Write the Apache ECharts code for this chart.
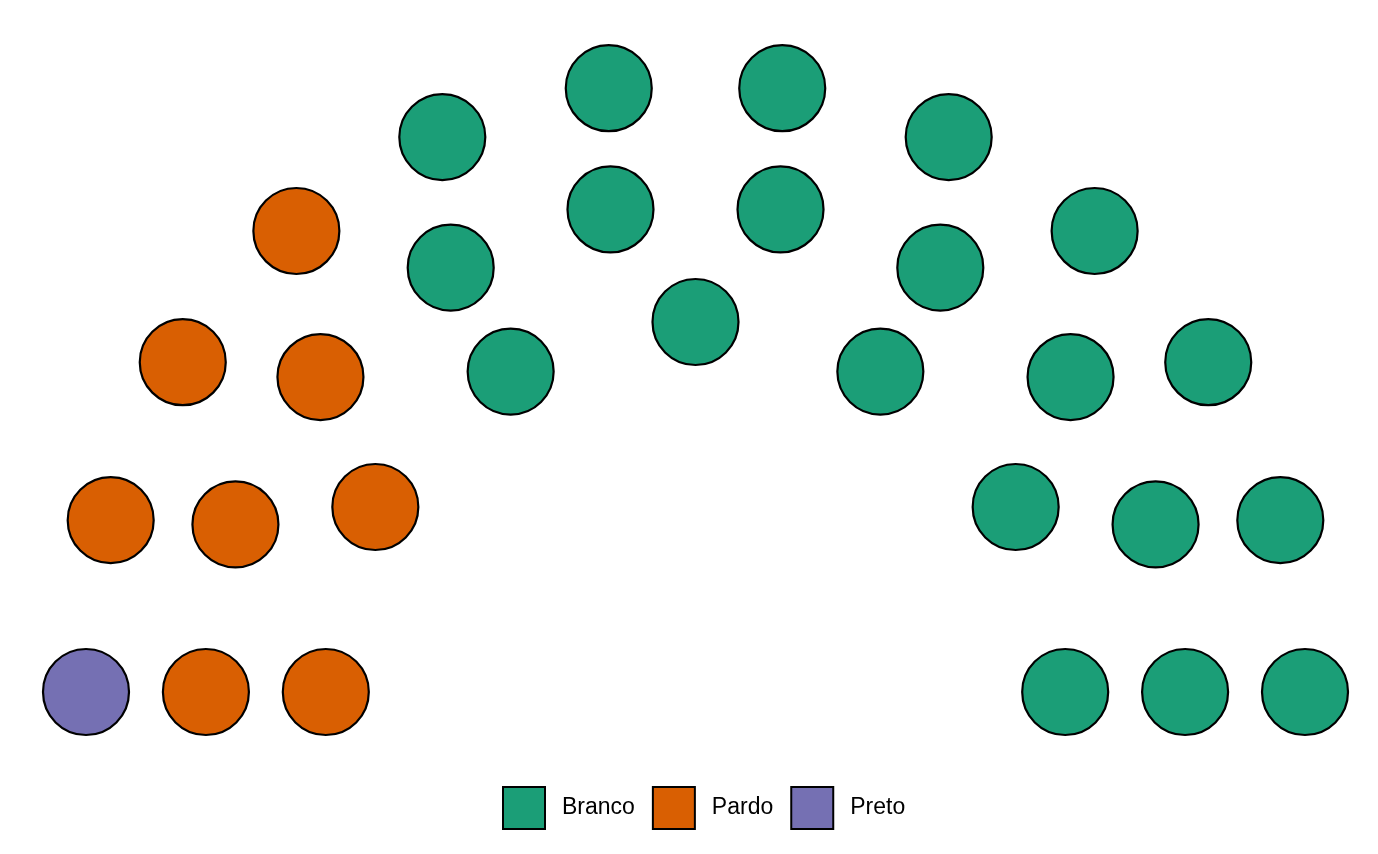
<!DOCTYPE html>
<html>
<head>
<meta charset="utf-8">
<script src="https://cdn.jsdelivr.net/npm/echarts@6/dist/echarts.min.js"></script>
<style>html,body{margin:0;padding:0;background:#fff;}#c{width:1378px;height:854px;}</style>
</head>
<body>
<div id="c"></div>
<script>
// Data
const parties = ['Branco', 'Pardo', 'Preto'];
const seats = [20, 8, 1];
const partyColors = ['#1B9E77', '#D95F02', '#7570B3'];
// seats are filled from left to right in this order
const fillOrder = ['Preto', 'Pardo', 'Branco'];
// parliament layout: seats per row and row radius (relative)
const rowSeats = [7, 10, 12];
const rowRadius = [370 / 610, 490 / 610, 1];

// build seat positions (semicircle layout)
const allSeats = [];
rowSeats.forEach((n, i) => {
  for (let k = 0; k < n; k++) {
    const th = Math.PI * k / (n - 1);
    allSeats.push({ th: th, r: rowRadius[i] });
  }
});
allSeats.sort((a, b) => {
  const d = b.th - a.th;
  if (Math.abs(d) > 1e-9) return d;
  return b.r - a.r;
});
const seatData = {};
parties.forEach(p => seatData[p] = []);
let idx = 0;
fillOrder.forEach(p => {
  const n = seats[parties.indexOf(p)];
  for (let j = 0; j < n; j++) {
    const s = allSeats[idx++];
    seatData[p].push([s.r * Math.cos(s.th), s.r * Math.sin(s.th)]);
  }
});

const chart = echarts.init(document.getElementById('c'), null, { renderer: 'canvas' });
chart.setOption({
  backgroundColor: '#ffffff',
  animation: false,
  grid: { left: 86, right: 73, top: 82, bottom: 162 },
  xAxis: { type: 'value', min: -1, max: 1, show: false },
  yAxis: { type: 'value', min: 0, max: 1, show: false },
  legend: {
    data: parties,
    left: 497,
    top: 781,
    icon: 'rect',
    itemWidth: 42,
    itemHeight: 42,
    itemGap: 17,
    itemStyle: { borderColor: '#000', borderWidth: 2 },
    textStyle: { fontFamily: 'Liberation Sans, Arial, sans-serif', fontSize: 23, color: '#000', padding: [4, 0, 0, 12] }
  },
  series: parties.map((p, i) => ({
    name: p,
    type: 'scatter',
    symbol: 'circle',
    symbolSize: 86,
    data: seatData[p],
    itemStyle: { color: partyColors[i], borderColor: '#000', borderWidth: 2.2, opacity: 1 },
    emphasis: { disabled: true }
  }))
});
</script>
</body>
</html>
